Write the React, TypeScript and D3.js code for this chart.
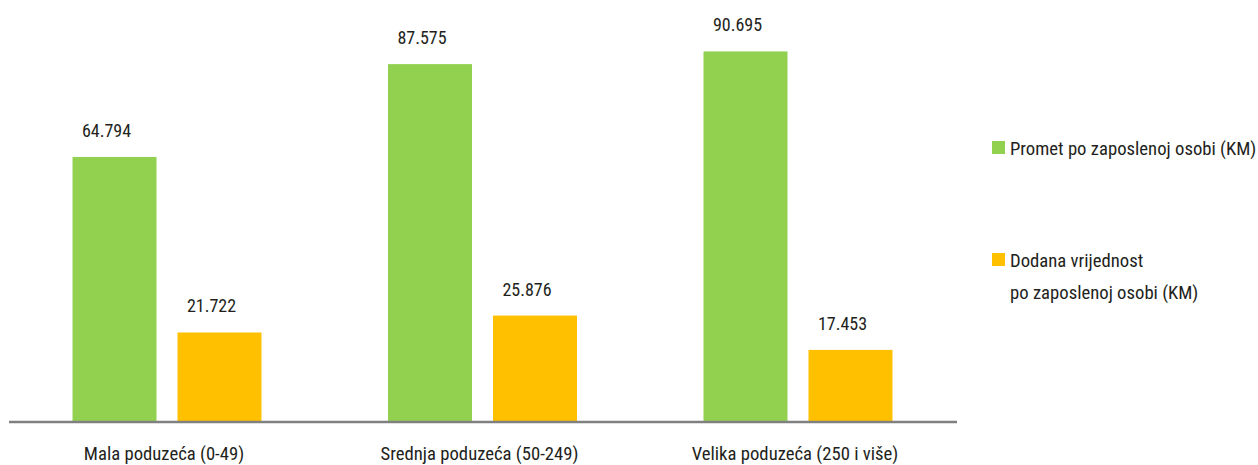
import React, { useRef, useEffect } from "react";
import * as d3 from "d3";

const categories = ["Mala poduzeća (0-49)", "Srednja poduzeća (50-249)", "Velika poduzeća (250 i više)"];
const seriesKeys = ["promet", "dodana"];
const seriesNames = ["Promet po zaposlenoj osobi (KM)", ["Dodana vrijednost", "po zaposlenoj osobi (KM)"]];
const prometValues = [64.794, 87.575, 90.695];
const dodanaValues = [21.722, 25.876, 17.453];
const colors = ["#92d050", "#ffc000"];

const App = () => {
  const svgRef = useRef<SVGSVGElement>(null);

  useEffect(() => {
    const svg = d3.select(svgRef.current);
    svg.selectAll("*").remove();

    const W = 1258;
    const H = 465;
    const font = "'Liberation Sans Narrow', 'Roboto Condensed', 'DejaVu Sans Condensed', sans-serif";
    const textColor = "#231f20";
    const base = 421;

    const data = categories.map((c, i) => ({
      cat: c,
      values: [prometValues[i], dodanaValues[i]],
    }));

    const x0 = d3.scaleBand().domain(categories).range([8, 957]).paddingInner(0.401).paddingOuter(0.2045);
    const x1 = d3.scaleBand().domain(seriesKeys).range([0, x0.bandwidth()]).paddingInner(0.2).paddingOuter(0);
    const y = d3.scaleLinear().domain([0, 100]).range([base, base - 407.5]);

    svg.attr("width", W).attr("height", H);

    const groups = svg
      .selectAll("g.grp")
      .data(data)
      .enter()
      .append("g")
      .attr("class", "grp")
      .attr("transform", (d) => `translate(${x0(d.cat)},0)`);

    groups
      .selectAll("rect")
      .data((d) => d.values.map((v, j) => ({ key: seriesKeys[j], v, j })))
      .enter()
      .append("rect")
      .attr("x", (d) => x1(d.key)!)
      .attr("y", (d) => y(d.v))
      .attr("width", x1.bandwidth())
      .attr("height", (d) => base - y(d.v))
      .attr("fill", (d) => colors[d.j]);

    // value labels
    groups
      .selectAll("text.val")
      .data((d) => d.values.map((v, j) => ({ key: seriesKeys[j], v, j })))
      .enter()
      .append("text")
      .attr("class", "val")
      .attr("x", (d) => x1(d.key)! + x1.bandwidth() / 2 - 8)
      .attr("y", (d) => y(d.v) - 20)
      .attr("text-anchor", "middle")
      .style("font-family", font)
      .style("font-size", "18px")
      .attr("fill", textColor)
      .text((d) => d3.format(".3f")(d.v));

    // axis line
    svg
      .append("line")
      .attr("x1", 9)
      .attr("x2", 957)
      .attr("y1", base + 1)
      .attr("y2", base + 1)
      .attr("stroke", "#808080")
      .attr("stroke-width", 2.5);

    // category labels
    svg
      .selectAll("text.cat")
      .data(categories)
      .enter()
      .append("text")
      .attr("class", "cat")
      .attr("x", (d) => x0(d)! + x0.bandwidth() / 2 - 3)
      .attr("y", 460)
      .attr("text-anchor", "middle")
      .style("font-family", font)
      .style("font-size", "18.7px")
      .attr("fill", textColor)
      .text((d) => d);

    // legend
    const legendY = [141, 253];
    seriesNames.forEach((name, i) => {
      svg
        .append("rect")
        .attr("x", 992)
        .attr("y", legendY[i])
        .attr("width", 13)
        .attr("height", 13)
        .attr("fill", colors[i]);
      const lines = Array.isArray(name) ? name : [name];
      lines.forEach((ln, k) => {
        svg
          .append("text")
          .attr("x", 1010)
          .attr("y", legendY[i] + 14 + k * 32)
          .style("font-family", font)
          .style("font-size", "18.7px")
          .attr("fill", textColor)
          .text(ln);
      });
    });
  }, []);

  return <svg ref={svgRef} style={{ position: "absolute", left: 0, top: 0 }}></svg>;
};

export default App;
